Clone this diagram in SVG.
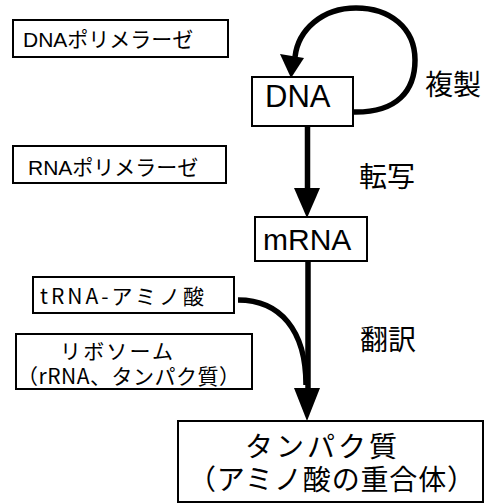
<svg xmlns="http://www.w3.org/2000/svg" width="487" height="504" viewBox="0 0 487 504">
<style>
.box{fill:#fff;stroke:#000;stroke-width:2}
.t{font-family:"Liberation Sans","Noto Sans CJK JP",sans-serif;fill:#000}
.j{font-family:"Noto Sans CJK JP",sans-serif;fill:#000}
.ln{fill:none;stroke:#000;stroke-width:5.5}
.ah{fill:#000;stroke:none}
</style>
<rect width="487" height="504" fill="#fff"/>
<g id="connectors">
<path class="ln" d="M353,112 C398,113 415,90 415,60 C415,28 390,8 356,8 C322,8 298,30 295,57"/>
<polygon class="ah" points="280,54 304,58 291,78"/>
<line class="ln" x1="307.5" y1="126" x2="307.5" y2="190"/>
<polygon class="ah" points="294,188 320,188 307,218"/>
<line class="ln" x1="308" y1="261" x2="308" y2="390"/>
<path class="ln" d="M238,300 C280,300 306,330 306,385"/>
<polygon class="ah" points="294,388 320,388 307,421"/>
</g>
<g id="dnapol">
<rect class="box" x="13" y="20" width="215" height="37"/>
<text class="t" x="23" y="47" font-size="21">DNAポリメラーゼ</text>
</g>
<g id="rnapol">
<rect class="box" x="13" y="146" width="213" height="37"/>
<text class="t" x="28" y="175" font-size="21">RNAポリメラーゼ</text>
</g>
<g id="dna">
<rect class="box" x="252" y="77" width="101" height="49"/>
<text class="t" x="265" y="107" font-size="31">DNA</text>
</g>
<g id="mrna">
<rect class="box" x="255" y="217" width="112" height="44"/>
<text class="t" x="263" y="250" font-size="30">mRNA</text>
</g>
<g id="trna">
<rect class="box" x="33" y="277" width="201" height="36"/>
<text class="j" x="40" y="304" font-size="21" textLength="164" lengthAdjust="spacing">tRNA-アミノ酸</text>
</g>
<g id="ribosome">
<rect class="box" x="16" y="334" width="236" height="55"/>
<text class="j" x="60" y="359" font-size="21" textLength="113" lengthAdjust="spacing">リボソーム</text>
<text class="j" x="17" y="384" font-size="21" textLength="223" lengthAdjust="spacing">（rRNA、タンパク質）</text>
</g>
<g id="protein">
<rect class="box" x="178" y="421" width="305" height="81"/>
<text class="j" x="245" y="457" font-size="28" textLength="152" lengthAdjust="spacing">タンパク質</text>
<text class="j" x="188" y="490" font-size="28" textLength="287" lengthAdjust="spacing">（アミノ酸の重合体）</text>
</g>
<g id="labels">
<text class="j" x="425" y="95" font-size="28">複製</text>
<text class="j" x="359" y="187" font-size="28">転写</text>
<text class="j" x="360" y="350" font-size="28">翻訳</text>
</g>
</svg>
